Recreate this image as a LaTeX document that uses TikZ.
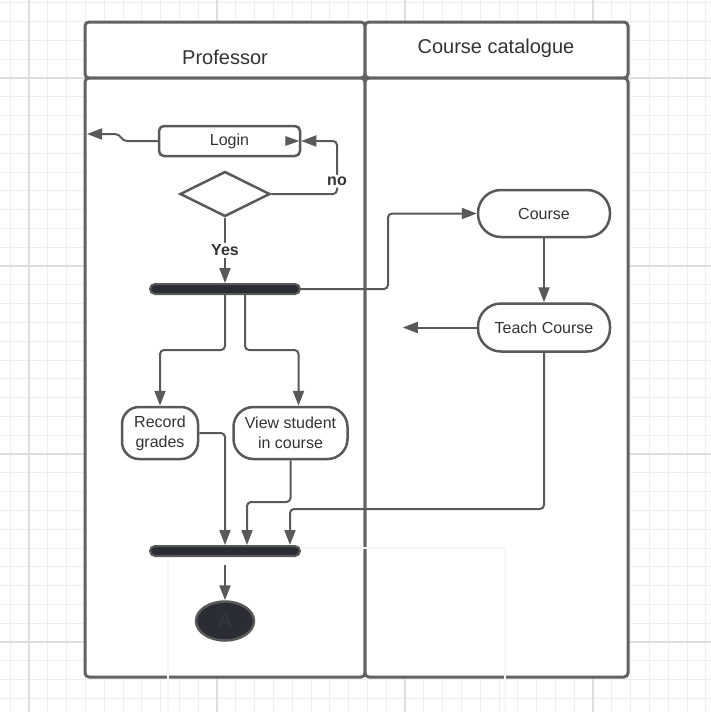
\documentclass[tikz,border=0pt]{standalone}
\usepackage{fontspec}
\setmainfont{Liberation Sans}
\usepackage{tikz}
\usetikzlibrary{arrows.meta,positioning,shapes.geometric,calc}
\definecolor{lineg}{RGB}{89,89,89}
\definecolor{laneg}{RGB}{98,98,98}
\definecolor{bardark}{RGB}{42,45,52}
\definecolor{txtg}{RGB}{51,51,51}
\definecolor{gridminor}{RGB}{238,238,238}
\definecolor{gridmajor}{RGB}{222,222,222}
\tikzstyle{lane}=[draw=laneg,line width=3pt,rounded corners=4pt,fill=white]
\tikzstyle{head}=[text=txtg,font=\fontsize{20}{24}\selectfont]
\tikzstyle{action}=[draw=lineg,line width=2.5pt,rounded corners=23pt,fill=white,text=txtg,font=\fontsize{16}{20}\selectfont,align=center,inner sep=0pt]
\tikzstyle{bar}=[draw=lineg,line width=2pt,fill=bardark,rounded corners=5pt,minimum width=150pt,minimum height=10pt,inner sep=0pt]
\tikzstyle{flow}=[draw=lineg,line width=2pt,rounded corners=4pt,-{Triangle[length=15pt,width=11pt]}]
\tikzstyle{guard}=[font=\bfseries\fontsize{16}{19}\selectfont,text=txtg,fill=white,inner sep=2pt]

\begin{document}
\begin{tikzpicture}[x=1pt,y=-1pt]
\useasboundingbox (0,0) rectangle (711,712);
\fill[white] (0,0) rectangle (711,712);
% grid
\foreach \i in {-1,...,36} \draw[gridminor,line width=1pt] ({29+18.8*\i},0) -- ++(0,712);
\foreach \i in {-4,...,33} \draw[gridminor,line width=1pt] (0,{78+18.8*\i}) -- ++(711,0);
\foreach \i in {0,...,3} {
  \draw[gridmajor,line width=1.5pt] ({29+188*\i},0) -- ++(0,712);
  \draw[gridmajor,line width=1.5pt] (0,{78+188*\i}) -- ++(711,0);
}
% lanes
\draw[lane] (85,22) rectangle (365,78);
\draw[lane] (365,22) rectangle (628,78);
\draw[lane] (85,78) rectangle (365,677);
\draw[lane] (365,78) rectangle (628,677);
\node[head] (prof) at (225,57) {Professor};
\node[head] (cat) at (496,48) {Course catalogue};
\draw[black!3,line width=1.5pt] (168,712) -- (168,548) -- (505,548) -- (505,712);

\node[action,minimum width=141pt,minimum height=30pt,rounded corners=5pt] (login) at (229.5,141) {Login};
\node[diamond,draw=lineg,line width=2.5pt,fill=white,minimum width=90pt,minimum height=45pt,inner sep=0pt] (check) at (225,194) {};
\node[bar] (fork) at (225,289) {};
\node[action,minimum width=132pt,minimum height=47pt] (course) at (544,213.5) {Course};
\node[action,minimum width=132pt,minimum height=48pt,below=64pt of course] (teach) {Teach Course};
\node[action,minimum width=76pt,minimum height=52pt,rounded corners=17pt] (record) at (160,433) {Record\\grades};
\node[action,minimum width=114pt,minimum height=52pt,rounded corners=20pt] (view) at (290.5,433) {View student\\in course};
\node[bar] (join) at (225,551) {};
\node[ellipse,draw=lineg,line width=2.5pt,fill=bardark,minimum width=58pt,minimum height=39pt,inner sep=0pt,text={rgb,255:red,52;green,55;blue,62},font=\fontsize{20}{24}\selectfont] (final) at (225,621) {A};
\coordinate (loginout) at (87,134);
\coordinate (teachout) at ($(teach.west)+(-74,0)$);

\draw[flow] (login.west) -- (123,141) -- (119,134) -- (loginout);
\draw[flow] (check.east) -- (337,194) |- node[guard,pos=0.12] {no} (login.east);
\fill[lineg] ([xshift=-2pt]login.east) -- ++(-14,-5) -- ++(0,10) -- cycle;
\draw[flow] (check.south) -- node[guard] {Yes} (fork.north);
\draw[flow] (fork.east) -- (388,289) |- (course.west);
\draw[flow] (course) -- (teach);
\draw[flow] (teach.west) -- (teachout);
\draw[flow] (fork.south) -- (225,350) -| (record.north);
\draw[flow] ([xshift=20pt]fork.south) -- (245,350) -| ([xshift=8pt]view.north);
\draw[flow] (record.east) -| (join.north);
\draw[flow] (view.south) -- (290.5,502) -| ([xshift=22pt]join.north);
\draw[flow] (teach.south) -- (544,509) -| ([xshift=65pt]join.north);
\draw[flow] ([yshift=-8pt]join.south) -- (final.north);
\end{tikzpicture}
\end{document}
